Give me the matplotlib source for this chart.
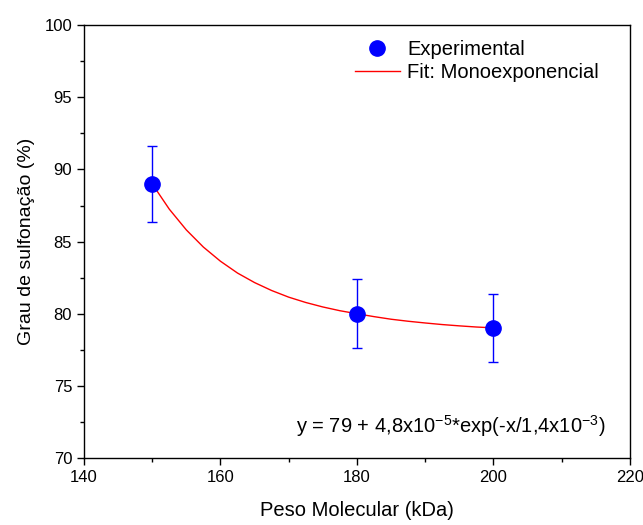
import numpy as np
import matplotlib
matplotlib.use('Agg')
import matplotlib.pyplot as plt
from matplotlib.ticker import MultipleLocator
from matplotlib.lines import Line2D

plt.rcParams['font.family'] = ['Liberation Sans', 'DejaVu Sans']
plt.rcParams['mathtext.fontset'] = 'custom'
plt.rcParams['mathtext.rm'] = 'Liberation Sans'
plt.rcParams['mathtext.it'] = 'Liberation Sans'

# dados experimentais
peso = [150, 180, 200]
grau = [89.0, 80.0, 79.0]
erro = [2.65, 2.4, 2.35]

# curva ajustada
fit_x = [150, 152.5, 155, 157.5, 160, 162.5, 165, 167.5, 170, 172.5, 175,
         177.5, 180, 182.5, 185, 187.5, 190, 192.5, 195, 197.5, 200]
fit_y = [89.0, 87.25, 85.81, 84.62, 83.64, 82.82, 82.16, 81.61, 81.15, 80.78,
         80.47, 80.21, 80.0, 79.8, 79.62, 79.48, 79.36, 79.25, 79.16, 79.08, 79.02]

fig = plt.figure(figsize=(6.43, 5.25), dpi=100)
ax = fig.add_axes([0.1306, 0.1276, 0.849, 0.8244])

ax.plot(fit_x, fit_y, color='red', linewidth=1.0, zorder=2)
ax.errorbar(peso, grau, yerr=erro, fmt='o', color='blue', ecolor='blue',
            markersize=11, elinewidth=1.0, capsize=3.6, capthick=1.0, zorder=3)

ax.set_xlim(140, 220)
ax.set_ylim(70, 100)
ax.xaxis.set_major_locator(MultipleLocator(20))
ax.xaxis.set_minor_locator(MultipleLocator(10))
ax.yaxis.set_major_locator(MultipleLocator(5))
ax.yaxis.set_minor_locator(MultipleLocator(2.5))
ax.tick_params(which='both', direction='out', top=False, right=False, labelsize=12)
ax.tick_params(which='major', length=5, width=1)
ax.tick_params(which='minor', length=3, width=1)
for s in ax.spines.values():
    s.set_linewidth(1.0)

ax.set_xlabel('Peso Molecular (kDa)', fontsize=14.5, labelpad=12)
ax.set_ylabel('Grau de sulfonação (%)', fontsize=14, labelpad=7)

# legenda
handles = [Line2D([], [], linestyle='none', marker='o', color='blue', markersize=11),
           Line2D([], [], color='red', linewidth=1.0)]
labels = ['Experimental', 'Fit: Monoexponencial']
ax.legend(handles, labels, loc='upper right', frameon=False, fontsize=14.5,
          handlelength=2.25, handletextpad=0.35, labelspacing=0.2,
          bbox_to_anchor=(0.976, 1.008))

ax.text(0.955, 0.073, r'y = 79 + 4,8x10$^{-5}$*exp(-x/1,4x10$^{-3}$)',
        transform=ax.transAxes, ha='right', va='center', fontsize=14.5)

fig.savefig('out.png', dpi=100)
